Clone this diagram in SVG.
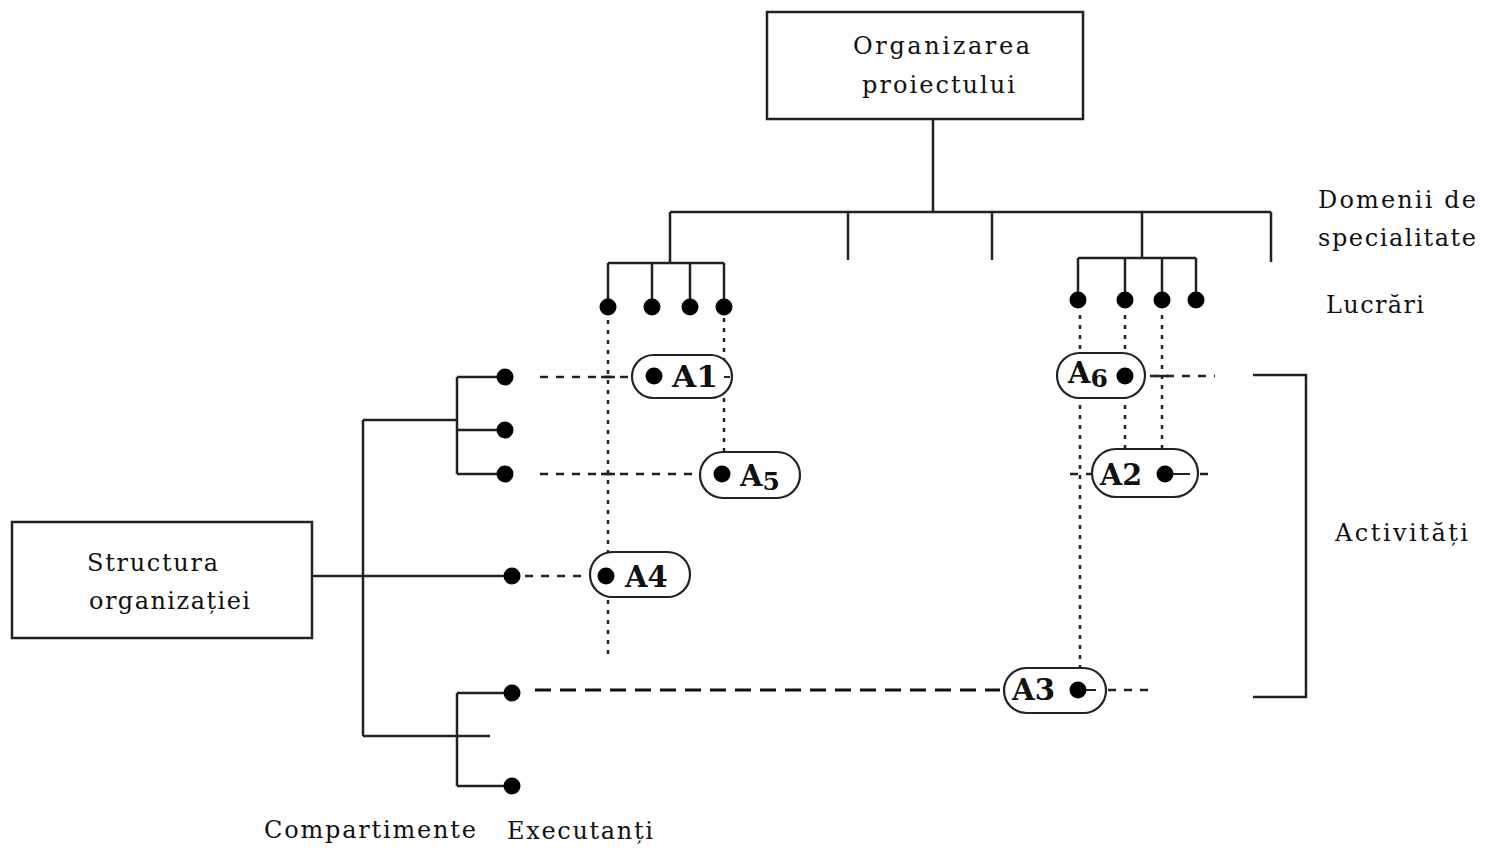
<svg xmlns="http://www.w3.org/2000/svg" width="1487" height="848" viewBox="0 0 1487 848">
<style>
.box{fill:#fff;stroke:#222;stroke-width:2.5}
.ln{fill:none;stroke:#222;stroke-width:2.5}
.dot{fill:#000}
.dt{fill:none;stroke:#222;stroke-width:2.5;stroke-dasharray:4 6}
.dh{fill:none;stroke:#222;stroke-width:2.5;stroke-dasharray:8 8}
.dth{fill:none;stroke:#111;stroke-width:3.2;stroke-dasharray:16 9}
.pill{fill:#fff;stroke:#222;stroke-width:2.2}
.t{font-family:"DejaVu Serif","Liberation Serif",serif;font-size:24px;fill:#111}
.a{font-family:"DejaVu Serif","Liberation Serif",serif;font-size:29px;fill:#111;font-weight:600}
</style>
<rect width="1487" height="848" fill="#fff"/>
<g id="connectors">
<path class="ln" d="M933,119V212M670,212H1271M670,212V263M848,212V260M992,212V260M1142,212V258M1271,212V262"/>
<path class="ln" d="M608,263H724M608,263V307M652,263V307M690,263V307M724,263V307"/>
<path class="ln" d="M1078,258H1196M1078,258V300M1125,258V300M1162,258V300M1196,258V300"/>
<path class="ln" d="M312,576H512M363,420V736M363,420H457M457,377V474M457,377H505M457,430H505M457,474H505"/>
<path class="ln" d="M363,736H490M457,693V786M457,693H512M457,786H512"/>
<path class="ln" d="M1253,375H1306V697H1253"/>
<path class="dt" d="M608,320V660M724,318V452M1080,315V668M1125,315V449M1162,315V449"/>
<path class="dh" d="M540,377H632M540,474H700M525,576H590M1150,376H1215M1070,474H1092M1200,474H1210"/>
<path class="dth" d="M535,690H1000"/>
<path class="dh" d="M1108,690H1155"/>
<path class="ln" d="M601,377H615M601,474H615M1155,376H1169"/>
</g>
<g id="top">
<rect class="box" x="767" y="12" width="316" height="107"/>
<text class="t" x="853" y="54" textLength="177" lengthAdjust="spacing">Organizarea</text>
<text class="t" x="862" y="93" textLength="153" lengthAdjust="spacing">proiectului</text>
</g>
<g id="structura">
<rect class="box" x="12" y="522" width="300" height="116"/>
<text class="t" x="87" y="571" textLength="131" lengthAdjust="spacing">Structura</text>
<text class="t" x="89" y="609" textLength="161" lengthAdjust="spacing">organizației</text>
</g>
<g id="dots">
<circle class="dot" cx="608" cy="307" r="8.5"/><circle class="dot" cx="652" cy="307" r="8.5"/><circle class="dot" cx="690" cy="307" r="8.5"/><circle class="dot" cx="724" cy="307" r="8.5"/>
<circle class="dot" cx="1078" cy="300" r="8.5"/><circle class="dot" cx="1125" cy="300" r="8.5"/><circle class="dot" cx="1162" cy="300" r="8.5"/><circle class="dot" cx="1196" cy="300" r="8.5"/>
<circle class="dot" cx="505" cy="377" r="8.5"/><circle class="dot" cx="505" cy="430" r="8.5"/><circle class="dot" cx="505" cy="474" r="8.5"/>
<circle class="dot" cx="512" cy="576" r="8.5"/><circle class="dot" cx="512" cy="693" r="8.5"/><circle class="dot" cx="512" cy="786" r="8.5"/>
</g>
<g id="A1">
<rect class="pill" x="632" y="355" width="100" height="43" rx="21.5"/>
<circle class="dot" cx="654" cy="376" r="8.5"/>
<path class="ln" d="M724,377H730" style="stroke-width:2"/>
<text class="a" x="672" y="387" textLength="46" lengthAdjust="spacingAndGlyphs">A1</text>
</g>
<g id="A5">
<rect class="pill" x="700" y="452" width="100" height="46" rx="23"/>
<circle class="dot" cx="722" cy="474" r="8.5"/>
<text class="a" x="740" y="486">A<tspan dy="4" font-size="25">5</tspan></text>
</g>
<g id="A4">
<rect class="pill" x="590" y="552" width="100" height="45" rx="22.5"/>
<circle class="dot" cx="606" cy="576" r="8.5"/>
<text class="a" x="625" y="587">A4</text>
</g>
<g id="A6">
<rect class="pill" x="1057" y="353" width="88" height="45" rx="22.5"/>
<circle class="dot" cx="1125" cy="376" r="8.5"/>
<text class="a" x="1068" y="383">A<tspan dy="4" font-size="25">6</tspan></text>
</g>
<g id="A2">
<rect class="pill" x="1092" y="449" width="106" height="48" rx="24"/>
<circle class="dot" cx="1165" cy="474" r="8.5"/>
<path class="ln" d="M1172,474H1190" style="stroke-width:2"/>
<text class="a" x="1100" y="485" textLength="42" lengthAdjust="spacingAndGlyphs">A2</text>
</g>
<g id="A3">
<rect class="pill" x="1004" y="668" width="102" height="45" rx="22.5"/>
<circle class="dot" cx="1078" cy="690" r="8.5"/>
<path class="ln" d="M1086,690H1096" style="stroke-width:2"/>
<text class="a" x="1012" y="700" textLength="43" lengthAdjust="spacingAndGlyphs">A3</text>
</g>
<g id="labels">
<text class="t" x="1318" y="208" textLength="158" lengthAdjust="spacing">Domenii de</text>
<text class="t" x="1318" y="246" textLength="158" lengthAdjust="spacing">specialitate</text>
<text class="t" x="1326" y="313" textLength="98" lengthAdjust="spacing">Lucrări</text>
<text class="t" x="1335" y="541" textLength="133" lengthAdjust="spacing">Activități</text>
<text class="t" x="264" y="838" textLength="212" lengthAdjust="spacing">Compartimente</text>
<text class="t" x="507" y="839" textLength="146" lengthAdjust="spacing">Executanți</text>
</g>
</svg>
